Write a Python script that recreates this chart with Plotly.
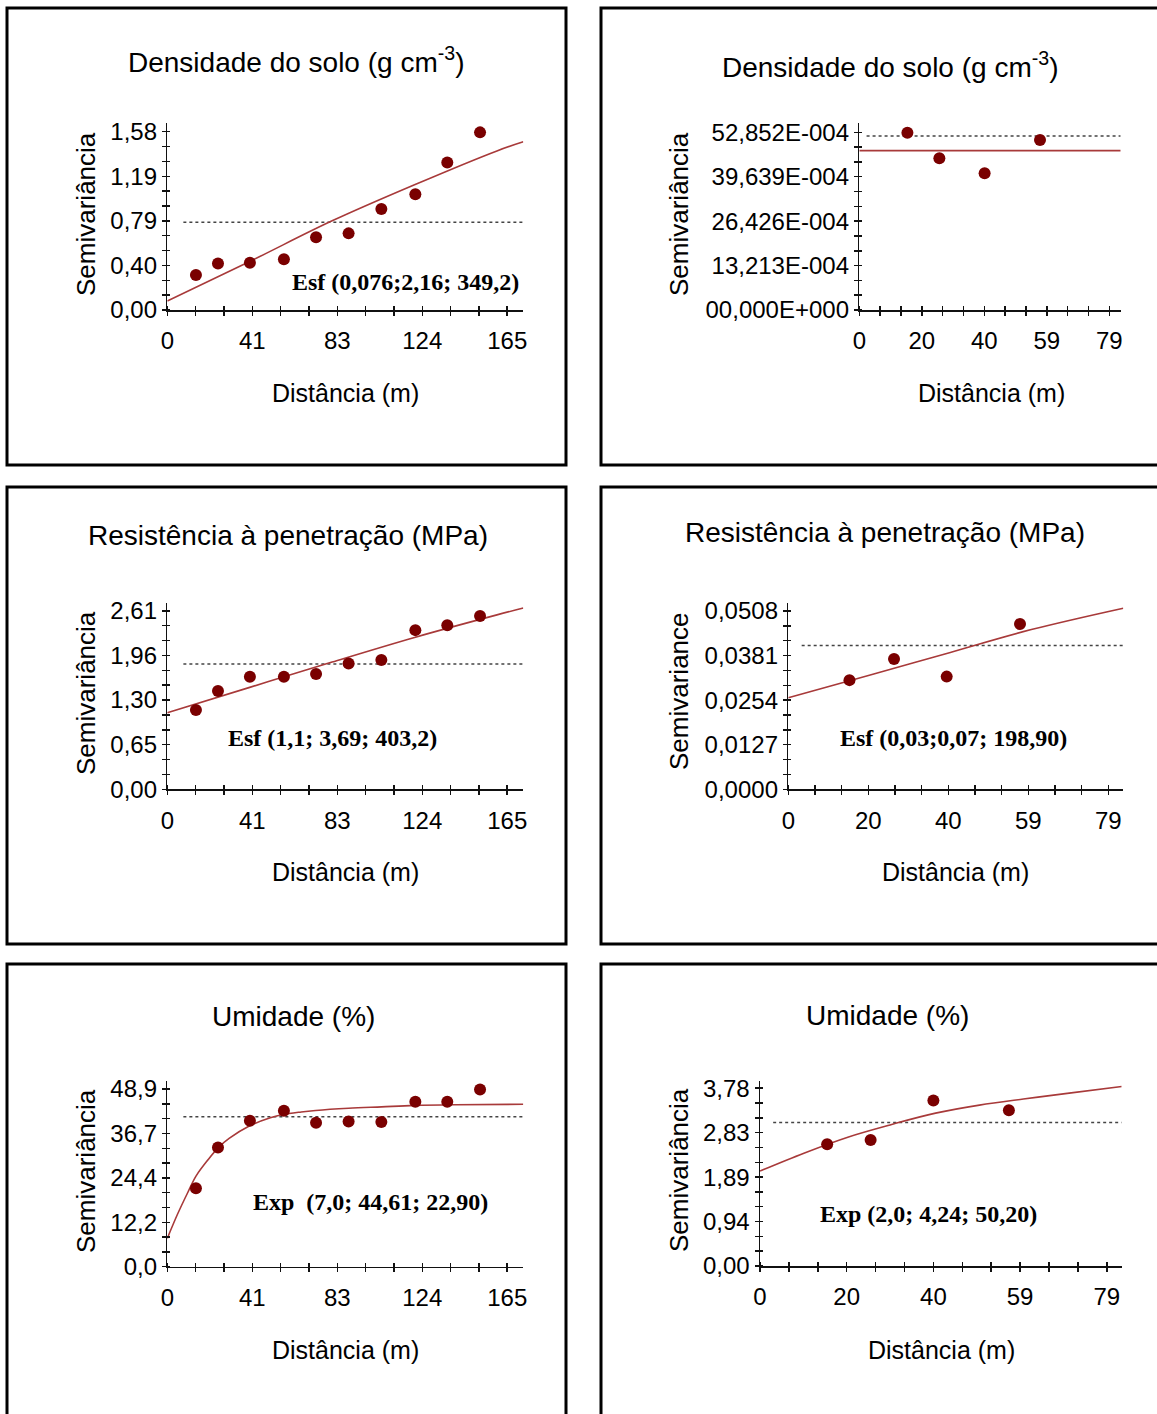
import plotly.graph_objects as go

W, H = 1157, 1414

# ---------------- data ----------------
# lag distances (m)
lag_long = [13.9, 24.6, 40.1, 56.6, 72.2, 88.0, 103.9, 120.4, 135.9, 151.8]
lag_short_ds = [15.2, 25.3, 39.6, 57.1]
lag_short_rp = [15.1, 26.1, 39.1, 57.2]
lag_short_um = [15.3, 25.2, 39.5, 56.7]

# experimental semivariances
gamma_ds_long = [0.310, 0.413, 0.419, 0.449, 0.644, 0.679, 0.895, 1.025, 1.308, 1.574]
gamma_ds_short = [0.005275, 0.004512, 0.004067, 0.005057]
gamma_rp_long = [1.159, 1.436, 1.646, 1.646, 1.685, 1.840, 1.889, 2.327, 2.400, 2.532]
gamma_rp_short = [0.0311, 0.0371, 0.0321, 0.0471]
gamma_um_long = [21.6, 32.8, 40.2, 42.9, 39.6, 40.0, 39.8, 45.4, 45.4, 48.8]
gamma_um_short = [2.59, 2.68, 3.52, 3.31]

# fitted model curves
model_ds_long_x = [0, 40, 80, 120, 160, 172.8]
model_ds_long_y = [0.08, 0.43, 0.79, 1.11, 1.41, 1.49]
model_ds_short_x = [0, 82.6]
model_ds_short_y = [0.00474, 0.00474]
model_rp_long_x = [0, 40, 80, 120, 160, 172.8]
model_rp_long_y = [1.12, 1.49, 1.86, 2.22, 2.55, 2.65]
model_rp_short_x = [0, 20, 40, 60, 82.7]
model_rp_short_y = [0.0261, 0.0325, 0.0390, 0.0455, 0.0516]
model_um_long_x = [0, 5, 10, 14, 20, 25, 30, 40, 50, 56, 65, 72, 88, 104, 120, 140, 172.8]
model_um_long_y = [7.8, 14.5, 20.5, 25.0, 29.6, 32.9, 35.3, 38.8, 41.0, 41.9, 42.6, 43.0, 43.6, 44.0, 44.4, 44.6, 44.7]
model_um_short_x = [0, 10, 20, 30, 40, 50, 60, 70, 82.4]
model_um_short_y = [2.02, 2.40, 2.74, 3.01, 3.25, 3.42, 3.55, 3.67, 3.815]

# sample variance (dotted line)
sill = [0.777, 0.005176, 1.831, 0.0410, 41.3, 3.05]
sill_start = [7.8, 2.3, 7.8, 3.3, 7.8, 3.0]

# tick labels
xt_long = ["0", "41", "83", "124", "165"]
xt_short = ["0", "20", "40", "59", "79"]
yt_ds_long = ["0,00", "0,40", "0,79", "1,19", "1,58"]
yt_ds_short = ["00,000E+000", "13,213E-004", "26,426E-004", "39,639E-004", "52,852E-004"]
yt_rp_long = ["0,00", "0,65", "1,30", "1,96", "2,61"]
yt_rp_short = ["0,0000", "0,0127", "0,0254", "0,0381", "0,0508"]
yt_um_long = ["0,0", "12,2", "24,4", "36,7", "48,9"]
yt_um_short = ["0,00", "0,94", "1,89", "2,83", "3,78"]
xmax_label_long, xmax_label_short = 165, 79
ymax_labels = [1.58, 0.0052852, 2.61, 0.0508, 48.9, 3.78]

titles = ["Densidade do solo (g cm<sup>-3</sup>)", "Densidade do solo (g cm<sup>-3</sup>)",
          "Resistência à penetração (MPa)", "Resistência à penetração (MPa)",
          "Umidade (%)", "Umidade (%)"]
ytitles = ["Semivariância", "Semivariância", "Semivariância", "Semivariance",
           "Semivariância", "Semivariância"]
model_texts = ["Esf (0,076;2,16; 349,2)", None, "Esf (1,1; 3,69; 403,2)",
               "Esf (0,03;0,07; 198,90)", "Exp\u00a0 (7,0; 44,61; 22,90)", "Exp (2,0; 4,24; 50,20)"]

panels = [
    dict(x=lag_long, y=gamma_ds_long, mx=model_ds_long_x, my=model_ds_long_y, xt=xt_long, yt=yt_ds_long, xl=xmax_label_long),
    dict(x=lag_short_ds, y=gamma_ds_short, mx=model_ds_short_x, my=model_ds_short_y, xt=xt_short, yt=yt_ds_short, xl=xmax_label_short),
    dict(x=lag_long, y=gamma_rp_long, mx=model_rp_long_x, my=model_rp_long_y, xt=xt_long, yt=yt_rp_long, xl=xmax_label_long),
    dict(x=lag_short_rp, y=gamma_rp_short, mx=model_rp_short_x, my=model_rp_short_y, xt=xt_short, yt=yt_rp_short, xl=xmax_label_short),
    dict(x=lag_long, y=gamma_um_long, mx=model_um_long_x, my=model_um_long_y, xt=xt_long, yt=yt_um_long, xl=xmax_label_long),
    dict(x=lag_short_um, y=gamma_um_short, mx=model_um_short_x, my=model_um_short_y, xt=xt_short, yt=yt_um_short, xl=xmax_label_short),
]

# ---------------- layout geometry (pixels) ----------------
# plot_left, plot_right, plot_bottom, plot_top, xmax, ymax
geom = [
    (167.3, 523.3, 310.0, 123.0, 172.8, 1.657),
    (859.3, 1120.7, 310.0, 123.3, 82.6, 0.005553),
    (167.3, 523.3, 789.3, 602.7, 172.8, 2.728),
    (788.3, 1123.3, 789.3, 602.7, 82.7, 0.05316),
    (167.3, 523.3, 1266.7, 1080.7, 172.8, 51.2),
    (760.0, 1121.7, 1266.0, 1080.7, 82.4, 3.94),
]
borders = [(7, 8, 566, 465), (601, 8, 1170, 465), (7, 487, 566, 944),
           (601, 487, 1170, 944), (7, 964, 566, 1425), (601, 964, 1170, 1425)]
title_pos = [(296, 60), (890, 65), (288, 535), (885, 532), (293, 1016), (887, 1015)]
xtitle_pos = [(345, 393), (991, 393), (345, 872), (955, 872), (345, 1350), (941, 1350)]
ytitle_pos = [(86, 214), (679, 214), (86, 693), (679, 691), (86, 1171), (679, 1170)]
mtext_pos = [(405, 282), None, (332, 738), (953, 738), (370, 1202), (928, 1214)]

def px(x):
    return x / W

def py(y):
    return 1 - y / H

SANS = "Liberation Sans, Arial, sans-serif"
SERIF = "Liberation Serif, Times New Roman, serif"
MARK = "#7a0000"
LINE = "#a83a3a"

fig = go.Figure()
layout = dict(width=W, height=H,
              margin=dict(l=0, r=0, t=0, b=0, pad=0, autoexpand=False),
              autosize=False,
              paper_bgcolor="white", plot_bgcolor="white", showlegend=False)
annotations = []
shapes = []

for i, (p, g) in enumerate(zip(panels, geom)):
    n = i + 1
    xa, ya = f"x{n}", f"y{n}"
    x0p, x1p, y0p, y1p, xmax, ymax = g
    # sill dotted line
    fig.add_trace(go.Scatter(x=[sill_start[i], xmax], y=[sill[i], sill[i]], mode="lines",
                             line=dict(color="#444444", width=1.5, dash="dot"),
                             xaxis=xa, yaxis=ya, hoverinfo="skip"))
    # model
    fig.add_trace(go.Scatter(x=p["mx"], y=p["my"], mode="lines",
                             line=dict(color=LINE, width=1.6, shape="spline"),
                             xaxis=xa, yaxis=ya))
    # experimental
    fig.add_trace(go.Scatter(x=p["x"], y=p["y"], mode="markers",
                             marker=dict(color=MARK, size=12),
                             xaxis=xa, yaxis=ya))

    xstep = p["xl"] / 12
    ystep = ymax_labels[i] / 12
    xvals = [k * xstep for k in range(13)]
    yvals = [k * ystep for k in range(13)]
    xtext = [p["xt"][k // 3] if k % 3 == 0 else "" for k in range(13)]
    ytext = [p["yt"][k // 3] if k % 3 == 0 else "" for k in range(13)]
    epsx = xmax * 1e-5
    epsy = ymax * 1e-5
    common = dict(showgrid=False, zeroline=False, showline=True, linecolor="#111111",
                  linewidth=1.5, ticks="outside", ticklen=4, tickwidth=1.5,
                  tickcolor="#111111", tickmode="array", automargin=False,
                  tickfont=dict(family=SANS, size=24, color="black"), fixedrange=True)
    layout[f"xaxis{n}"] = dict(common, domain=[px(x0p), px(x1p)], range=[0, xmax],
                               anchor=ya, tickvals=xvals, ticktext=xtext,
                               ticklabelstandoff=5,
                               minor=dict(tickmode="array", tickvals=[v + epsx for v in xvals],
                                          ticks="inside", ticklen=4, tickwidth=1.5,
                                          tickcolor="#111111"))
    layout[f"yaxis{n}"] = dict(common, domain=[py(y0p), py(y1p)], range=[0, ymax],
                               anchor=xa, tickvals=yvals, ticktext=ytext,
                               minor=dict(tickmode="array", tickvals=[v + epsy for v in yvals],
                                          ticks="inside", ticklen=3, tickwidth=1.5,
                                          tickcolor="#111111"))

    bx0, by0, bx1, by1 = borders[i]
    shapes.append(dict(type="rect", xref="paper", yref="paper",
                       x0=px(bx0), x1=px(bx1), y0=py(by0), y1=py(by1),
                       line=dict(color="black", width=3), fillcolor="rgba(0,0,0,0)"))
    tx, ty = title_pos[i]
    annotations.append(dict(text=titles[i], x=px(tx), y=py(ty), xref="paper", yref="paper",
                            showarrow=False, xanchor="center", yanchor="middle",
                            font=dict(family=SANS, size=28, color="black")))
    tx, ty = xtitle_pos[i]
    annotations.append(dict(text="Distância (m)", x=px(tx), y=py(ty), xref="paper", yref="paper",
                            showarrow=False, xanchor="center", yanchor="middle",
                            font=dict(family=SANS, size=25, color="black")))
    tx, ty = ytitle_pos[i]
    annotations.append(dict(text=ytitles[i], x=px(tx), y=py(ty), xref="paper", yref="paper",
                            showarrow=False, xanchor="center", yanchor="middle", textangle=-90,
                            font=dict(family=SANS, size=26, color="black")))
    if model_texts[i]:
        tx, ty = mtext_pos[i]
        annotations.append(dict(text=f"<b>{model_texts[i]}</b>", x=px(tx), y=py(ty),
                                xref="paper", yref="paper", showarrow=False,
                                xanchor="center", yanchor="middle",
                                font=dict(family=SERIF, size=24, color="black")))

layout["annotations"] = annotations
layout["shapes"] = shapes
fig.update_layout(**layout)
fig.write_html("out.html", config={"displayModeBar": False, "staticPlot": True},
               post_script="document.body.style.margin='0';document.body.style.padding='0';")
